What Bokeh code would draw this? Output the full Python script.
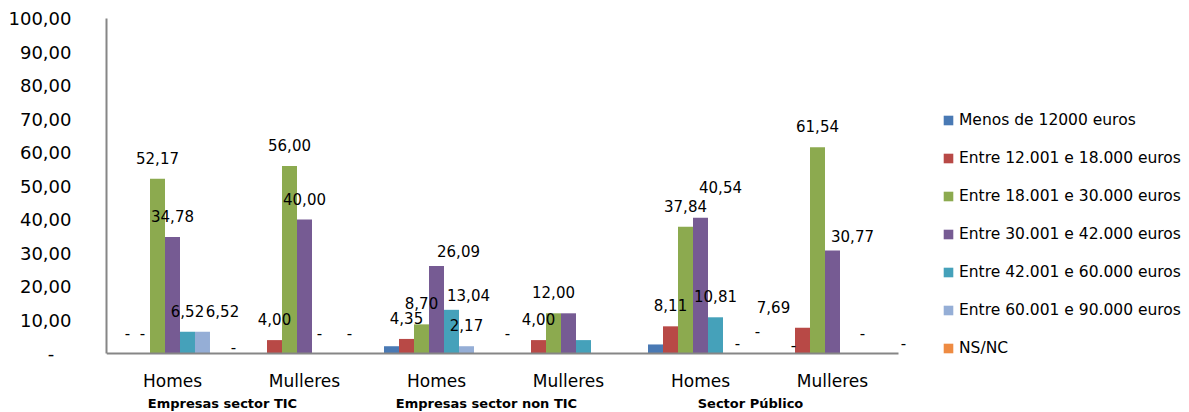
from bokeh.plotting import figure
from bokeh.models import ColumnDataSource, FixedTicker, Legend, LegendItem, Range1d
from bokeh.core.properties import value
from bokeh.embed import file_html
from bokeh.resources import INLINE

# ---------------- data ----------------
groups = ["Empresas sector TIC", "Empresas sector non TIC", "Sector Público"]
subgroups = ["Homes", "Mulleres"]
series_names = [
    "Menos de 12000 euros",
    "Entre 12.001 e 18.000 euros",
    "Entre 18.001 e 30.000 euros",
    "Entre 30.001 e 42.000 euros",
    "Entre 42.001 e 60.000 euros",
    "Entre 60.001 e 90.000 euros",
    "NS/NC",
]
# order: TIC Homes, TIC Mulleres, non TIC Homes, non TIC Mulleres, Público Homes, Público Mulleres
menos_12000 = [0, 0, 2.17, 0, 2.70, 0]
entre_12_18 = [0, 4.00, 4.35, 4.00, 8.11, 7.69]
entre_18_30 = [52.17, 56.00, 8.70, 12.00, 37.84, 61.54]
entre_30_42 = [34.78, 40.00, 26.09, 12.00, 40.54, 30.77]
entre_42_60 = [6.52, 0, 13.04, 4.00, 10.81, None]
entre_60_90 = [6.52, None, 2.17, None, 0, 0]
ns_nc = [None, 0, None, None, 0, 0]
series_values = [menos_12000, entre_12_18, entre_18_30, entre_30_42,
                 entre_42_60, entre_60_90, ns_nc]
# data labels not shown in the original (series index, category index)
hidden_labels = [(0, 2), (0, 4), (3, 3), (4, 3)]

y_tick_values = [0, 10, 20, 30, 40, 50, 60, 70, 80, 90, 100]
y_tick_labels = ["-\u00a0\u00a0\u00a0", "10,00", "20,00", "30,00", "40,00", "50,00",
                 "60,00", "70,00", "80,00", "90,00", "100,00"]

# ---------------- style ----------------
colors = ["#4979B4", "#B84946", "#8CAA4F", "#765B93", "#45A1BA", "#95AED6", "#EE8B42"]
FONT = "DejaVu Sans"
AXIS_COLOR = "#868686"
bar_w = 0.1136            # bar width, in category units
# label nudges (pixels) that Excel applied to avoid overlaps
label_nudge = {
    (5, 0): (20, 0), (3, 2): (22, 6), (4, 2): (17, 6), (3, 4): (20, -10),
    (1, 5): (-29, 0), (3, 5): (20, 7),
    (0, 1): (-26, 14), (0, 3): (-16, 0), (5, 4): (7, 10), (6, 4): (12, -2),
    (0, 5): (6, 12), (6, 5): (26, 10),
}
label_dy = -21
group_label_dx = -16

W, H = 1189, 412
LEFT, TOP = 106, 18
PX_PER_CAT = 132.0
PX_PER_UNIT_Y = 3.35
FRAME_W, FRAME_H = W - LEFT, H - TOP
ZERO_FROM_TOP = 335

p = figure(width=W, height=H, min_border_left=LEFT, min_border_top=TOP,
           min_border_bottom=0, min_border_right=0,
           x_range=Range1d(0, FRAME_W / PX_PER_CAT),
           y_range=Range1d(-(FRAME_H - ZERO_FROM_TOP) / PX_PER_UNIT_Y, 100),
           x_axis_location=None, output_backend="svg", toolbar_location=None)
p.outline_line_color = None
p.xgrid.grid_line_color = None
p.ygrid.grid_line_color = None

ncat = len(groups) * len(subgroups)
cat_labels = [s for g in groups for s in subgroups]
cat_centers = [j + 0.5 for j in range(ncat)]

legend_items = []
label_sources = []
for i, (name, vals) in enumerate(zip(series_names, series_values)):
    off = (i - (len(series_names) - 1) / 2) * bar_w
    xs, tops = [], []
    lx, ly, lt, dx, dy = [], [], [], [], []
    for j, v in enumerate(vals):
        if v is None:
            continue
        xs.append(cat_centers[j] + off)
        tops.append(v)
        if (i, j) in hidden_labels:
            continue
        lx.append(cat_centers[j] + off)
        ly.append(v)
        lt.append("-" if v == 0 else ("%.2f" % v).replace(".", ","))
        ndx, ndy = label_nudge.get((i, j), (0, 0))
        dx.append(ndx)
        dy.append(label_dy + ndy)
    r = p.vbar(x=xs, top=tops, bottom=0, width=bar_w,
               fill_color=colors[i], line_color=None)
    legend_items.append(LegendItem(label=name, renderers=[r]))
    label_sources.append(ColumnDataSource(dict(x=lx, y=ly, t=lt, dx=dx, dy=dy)))

for src in label_sources:
    p.text(x="x", y="y", text="t", x_offset="dx", y_offset="dy", source=src,
           text_font=value(FONT), text_font_size="15px", text_color="#000000",
           text_align="center", text_baseline="alphabetic")

# x axis baseline
p.segment(x0=[0], y0=[0], x1=[ncat], y1=[0], line_color=AXIS_COLOR, line_width=2)

# category labels
p.text(x=cat_centers, y=[0] * ncat, text=cat_labels, y_offset=27,
       text_font=value(FONT), text_font_size="17px", text_color="#000000",
       text_align="center", text_baseline="middle")
# group labels
ng = len(subgroups)
g_centers = [k * ng + ng / 2 for k in range(len(groups))]
p.text(x=g_centers, y=[0] * len(groups), text=groups, y_offset=50, x_offset=group_label_dx,
       text_font=value(FONT), text_font_size="13px", text_font_style="bold",
       text_color="#000000", text_align="center", text_baseline="middle")

# y axis
ya = p.yaxis[0]
ya.ticker = FixedTicker(ticks=y_tick_values)
ya.major_label_overrides = {t: l for t, l in zip(y_tick_values, y_tick_labels)}
ya.bounds = (0, 100)
ya.axis_line_color = AXIS_COLOR
ya.axis_line_width = 2
ya.major_tick_line_color = None
ya.minor_tick_line_color = None
ya.major_label_text_font = FONT
ya.major_label_text_font_size = "18px"
ya.major_label_text_color = "#000000"
ya.major_label_standoff = 29

legend = Legend(items=legend_items, location=(836, 54))
legend.glyph_width = 12
legend.glyph_height = 12
legend.label_height = 20
legend.spacing = 18
legend.padding = 0
legend.margin = 0
legend.label_standoff = 5
legend.label_text_font = FONT
legend.label_text_font_size = "15.5px"
legend.label_text_color = "#000000"
legend.border_line_color = None
legend.background_fill_alpha = 0
p.add_layout(legend, "center")

open("out.html", "w").write(file_html(p, INLINE))
